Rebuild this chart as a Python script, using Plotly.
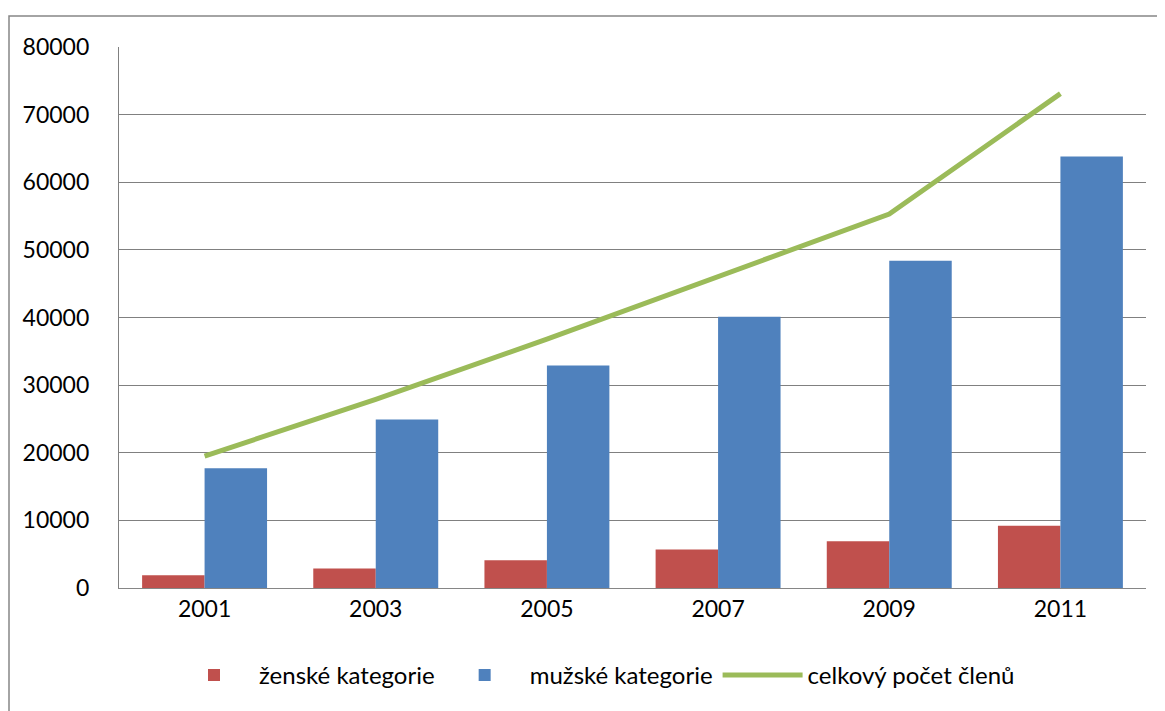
import plotly.graph_objects as go

years = ["2001", "2003", "2005", "2007", "2009", "2011"]
zenske = [1900, 2900, 4100, 5700, 6900, 9200]
muzske = [17700, 24900, 32900, 40100, 48400, 63800]
celkem = [19500, 27900, 36800, 46100, 55300, 73100]
y_ticks = [0, 10000, 20000, 30000, 40000, 50000, 60000, 70000, 80000]

FONT = "Lato"
fig = go.Figure()
fig.add_trace(go.Bar(x=years, y=zenske, name="ženské kategorie",
                     marker=dict(color="#C0504D", line=dict(width=0))))
fig.add_trace(go.Bar(x=years, y=muzske, name="mužské kategorie",
                     marker=dict(color="#4F81BD", line=dict(width=0))))
fig.add_trace(go.Scatter(x=years, y=celkem, name="celkový počet členů",
                         mode="lines", line=dict(color="#9BBB59", width=5)))

# page has an 8px body margin, so the figure is shifted by 8px
W, H = 1157, 703
fig.update_layout(
    width=W, height=H,
    margin=dict(l=111, r=19, t=39, b=123, autoexpand=False),
    paper_bgcolor="white", plot_bgcolor="white",
    barmode="group", bargap=0.27, bargroupgap=0,
    font=dict(family=FONT, size=23, color="black"),
    showlegend=True,
    legend=dict(orientation="h", x=0.463, xanchor="center", y=-0.12, yanchor="top",
                font=dict(family=FONT, size=24), itemwidth=80,
                traceorder="normal"),
    xaxis=dict(type="category", showgrid=False, showline=True, linecolor="#868686",
               linewidth=1, ticks="", tickfont=dict(size=23)),
    yaxis=dict(range=[0, 80000], tickvals=y_ticks, ticktext=[str(v) for v in y_ticks],
               showgrid=True, gridcolor="#808080", gridwidth=1.3,
               showline=True, linecolor="#808080", linewidth=1.3,
               ticks="", ticklabelstandoff=24, zeroline=False, tickfont=dict(size=23)),
    shapes=[dict(type="rect", xref="paper", yref="paper",
                 x0=(1 - 111) / 1027, y0=-0.3, x1=1.1, y1=(580 - 8) / 541,
                 line=dict(color="#868686", width=1.5), layer="below")],
)

fig.write_html("out.html")
